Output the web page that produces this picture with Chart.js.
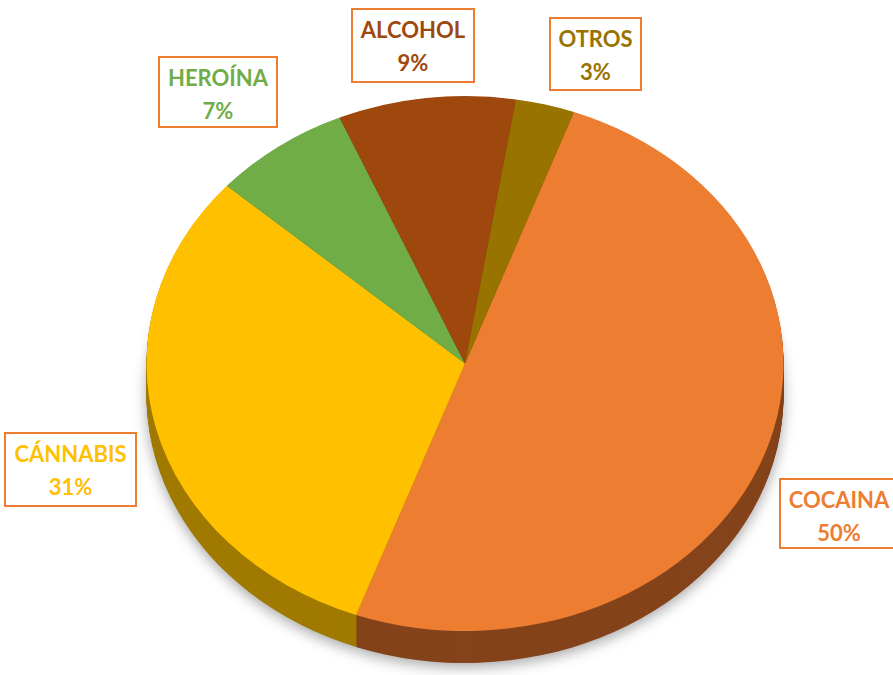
<!DOCTYPE html>
<html>
<head>
<meta charset="utf-8">
<script src="https://cdn.jsdelivr.net/npm/chart.js@4.4.1/dist/chart.umd.min.js"></script>
<style>
  body { margin: 0; background: #fff; }
  #wrap { position: relative; width: 893px; height: 675px; overflow: hidden; }
  canvas { position: absolute; left: 0; top: 0; }
  .lbl {
    position: absolute;
    box-sizing: border-box;
    border: 2px solid #ED7D31;
    background: #fff;
    font-family: Lato, 'Open Sans', sans-serif;
    font-weight: 700;
    font-size: 22px;
    line-height: 33px;
    text-align: center;
    padding-top: 3px;
    white-space: nowrap;
  }
</style>
</head>
<body>
<div id="wrap">
  <canvas id="pie" width="893" height="675"></canvas>
</div>
<script>
// datos
const categorias = ['COCAINA', 'CÁNNABIS', 'HEROÍNA', 'ALCOHOL', 'OTROS'];
const porcentajes = [50, 31, 7, 9, 3];
const colores = ['#ED7D31', '#FFC000', '#70AD47', '#9E480E', '#997300'];
const coloresLado = ['#84431A', '#A07A00', '#4A7A2E', '#6B300A', '#665000'];

// posiciones de las etiquetas (caja) [left, top, width, height]
const cajas = [
  [779, 478, 120, 71],
  [4, 432, 133, 75],
  [158, 56, 120, 72],
  [351, 8, 124, 75],
  [549, 17, 93, 74]
];

const SQUASH = 0.84;
const SHIFT = 7;
const DEPTH = 32;

// pinta el pastel aplastado y con grosor (efecto 3D)
const pie3d = {
  id: 'pie3d',
  beforeDatasetsDraw(chart) {
    const ctx = chart.ctx;
    const arcs = chart.getDatasetMeta(0).data;
    if (!arcs.length) return;
    const cx = arcs[0].x, cy = arcs[0].y;
    ctx.save();
    ctx.translate(cx, cy + SHIFT);
    ctx.scale(1, SQUASH);
    ctx.translate(-cx, -cy);

    for (let d = DEPTH; d >= 1; d--) {
      ctx.save();
      ctx.translate(0, d / SQUASH);
      if (d === DEPTH) {
        ctx.shadowColor = 'rgba(0,0,0,0.35)';
        ctx.shadowBlur = 14;
        ctx.shadowOffsetY = 4;
      }
      arcs.forEach((a, i) => {
        ctx.beginPath();
        ctx.moveTo(a.x, a.y);
        ctx.arc(a.x, a.y, a.outerRadius, a.startAngle, a.endAngle);
        ctx.closePath();
        ctx.fillStyle = coloresLado[i];
        ctx.fill();
      });
      ctx.restore();
    }
  },
  afterDatasetsDraw(chart) {
    if (chart.getDatasetMeta(0).data.length) chart.ctx.restore();
  }
};

new Chart(document.getElementById('pie').getContext('2d'), {
  type: 'pie',
  data: {
    labels: categorias,
    datasets: [{
      data: porcentajes,
      backgroundColor: colores,
      borderWidth: 0
    }]
  },
  options: {
    responsive: false,
    animation: false,
    events: [],
    rotation: 20,
    layout: { padding: { left: 145, right: 108, top: 38, bottom: 0 } },
    plugins: {
      legend: { display: false },
      tooltip: { enabled: false }
    }
  },
  plugins: [pie3d]
});

// etiquetas
const wrap = document.getElementById('wrap');
categorias.forEach((c, i) => {
  const el = document.createElement('div');
  el.className = 'lbl';
  const [l, t, w, h] = cajas[i];
  el.style.left = l + 'px';
  el.style.top = t + 'px';
  el.style.width = w + 'px';
  el.style.height = h + 'px';
  el.style.color = colores[i];
  el.innerHTML = c + '<br>' + porcentajes[i] + '%';
  wrap.appendChild(el);
});
</script>
</body>
</html>
